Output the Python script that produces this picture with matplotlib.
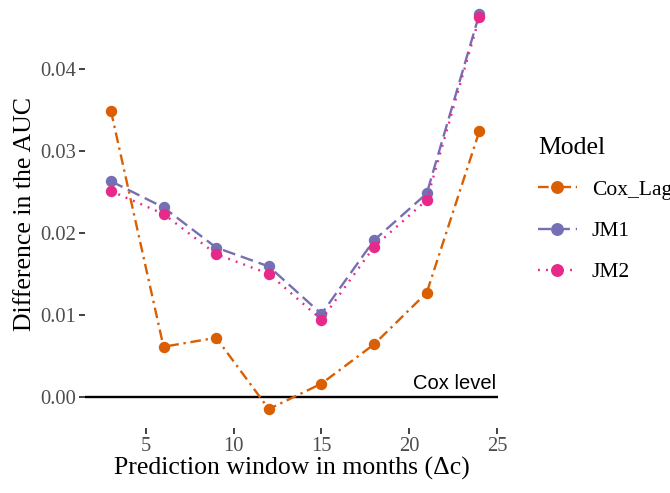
import matplotlib
matplotlib.use("Agg")
import matplotlib.pyplot as plt
import numpy as np

# prediction windows (months) and AUC difference relative to the Cox model
windows = [3, 6, 9, 12, 15, 18, 21, 24]
cox_lag = [0.0349, 0.0061, 0.0072, -0.0015, 0.0016, 0.0064, 0.0127, 0.0324]
jm1 = [0.0263, 0.0231, 0.0182, 0.0159, 0.0101, 0.0191, 0.0248, 0.0467]
jm2 = [0.0251, 0.0223, 0.0174, 0.0150, 0.0094, 0.0183, 0.0240, 0.0463]

models = ["Cox_Lag", "JM1", "JM2"]
colors = ["#D95F02", "#7570B3", "#E7298A"]
styles = [(0, (4.5, 2, 1, 2)), (0, (5.5, 2.5)), (0, (0.8, 2.6))]

plt.rcParams["font.family"] = ["Liberation Serif", "DejaVu Serif"]

fig = plt.figure(figsize=(6.7, 4.93), dpi=100)
ax = fig.add_axes([0.127, 0.132, 0.616, 0.868])

ax.axhline(0, color="black", lw=1.7, zorder=1)
ax.text(24.95, 0.0005, "Cox level", family="Liberation Sans", fontsize=14.5,
        ha="right", va="bottom")

for name, vals, col, ls in zip(models, [cox_lag, jm1, jm2], colors, styles):
    ax.plot(windows, vals, color=col, linestyle=ls, lw=1.7, marker="o",
            markersize=7.2, label=name, zorder=3)

ax.set_xlim(1.53, 25.05)
ax.set_ylim(-0.0038, 0.0484)
ax.set_xticks([5, 10, 15, 20, 25])
ax.set_yticks([0.0, 0.01, 0.02, 0.03, 0.04])
ax.set_yticklabels(["0.00", "0.01", "0.02", "0.03", "0.04"])
for s in ax.spines.values():
    s.set_visible(False)
ax.tick_params(length=4.5, width=1.3, color="#333333", labelcolor="#4D4D4D",
               labelsize=14.8, pad=2)

ax.set_xlabel("Prediction window in months (\u0394c)", fontsize=18.5, labelpad=1)
ax.set_ylabel("Difference in the AUC", fontsize=18.5, labelpad=3)

leg = ax.legend(loc="upper left", bbox_to_anchor=(0.79, 0.74),
                bbox_transform=fig.transFigure, frameon=False, title="Model",
                fontsize=15.5, title_fontsize=18.5, handlelength=1.8,
                labelspacing=0.98, handletextpad=0.7, borderaxespad=0,
                markerscale=1.15)
leg._legend_box.align = "left"

fig.savefig("out.png", dpi=100)
